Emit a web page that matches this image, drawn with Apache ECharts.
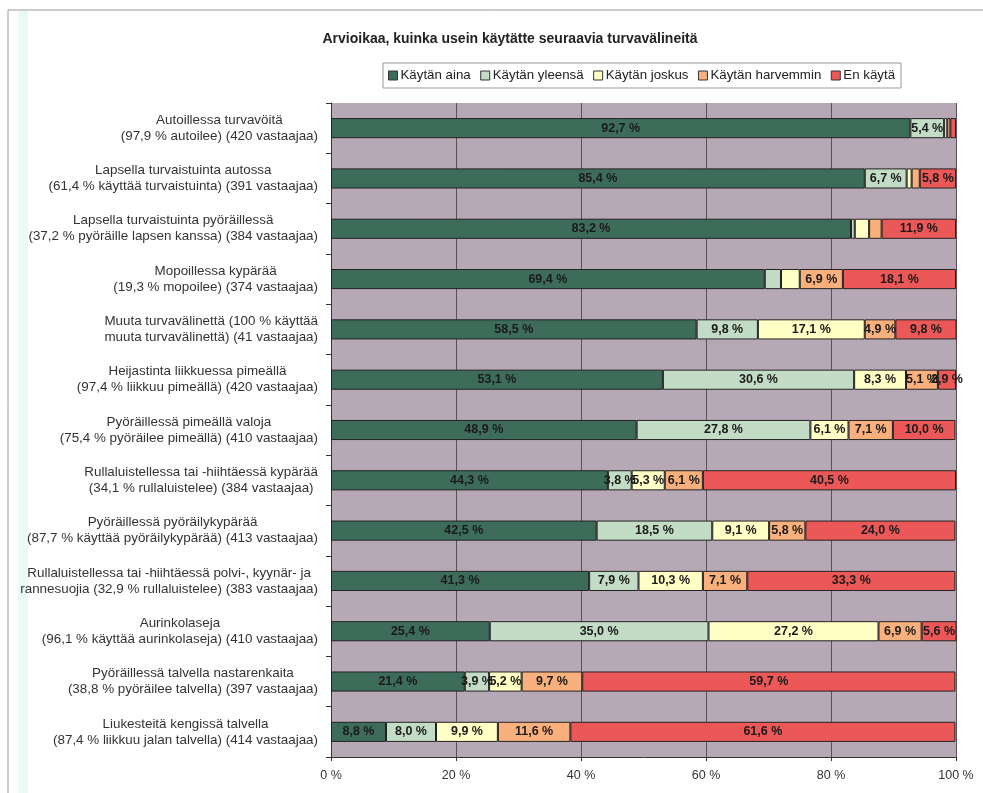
<!DOCTYPE html>
<html>
<head>
<meta charset="utf-8">
<script src="https://cdn.jsdelivr.net/npm/echarts@6/dist/echarts.min.js"></script>
<style>
html,body{margin:0;padding:0;background:#fff;}
#c{width:983px;height:793px;}
</style>
</head>
<body>
<div id="c"></div>
<script>
const titleText = 'Arvioikaa, kuinka usein käytätte seuraavia turvavälineitä';
const categories = [
  'Autoillessa turvavöitä\n(97,9 % autoilee) (420 vastaajaa)',
  'Lapsella turvaistuinta autossa\n(61,4 % käyttää turvaistuinta) (391 vastaajaa)',
  'Lapsella turvaistuinta pyöräillessä\n(37,2 % pyöräille lapsen kanssa) (384 vastaajaa)',
  'Mopoillessa kypärää\n(19,3 % mopoilee) (374 vastaajaa)',
  'Muuta turvavälinettä (100 % käyttää\nmuuta turvavälinettä) (41 vastaajaa)',
  'Heijastinta liikkuessa pimeällä\n(97,4 % liikkuu pimeällä) (420 vastaajaa)',
  'Pyöräillessä pimeällä valoja\n(75,4 % pyöräilee pimeällä) (410 vastaajaa)',
  'Rullaluistellessa tai -hiihtäessä kypärää\n(34,1 % rullaluistelee) (384 vastaajaa)',
  'Pyöräillessä pyöräilykypärää\n(87,7 % käyttää pyöräilykypärää) (413 vastaajaa)',
  'Rullaluistellessa tai -hiihtäessä polvi-, kyynär- ja\nrannesuojia (32,9 % rullaluistelee) (383 vastaajaa)',
  'Aurinkolaseja\n(96,1 % käyttää aurinkolaseja) (410 vastaajaa)',
  'Pyöräillessä talvella nastarenkaita\n(38,8 % pyöräilee talvella) (397 vastaajaa)',
  'Liukesteitä kengissä talvella\n(87,4 % liikkuu jalan talvella) (414 vastaajaa)'
];
const seriesNames = ['Käytän aina', 'Käytän yleensä', 'Käytän joskus', 'Käytän harvemmin', 'En käytä'];
const kaytanAina      = [92.7, 85.4, 83.2, 69.4, 58.5, 53.1, 48.9, 44.3, 42.5, 41.3, 25.4, 21.4, 8.8];
const kaytanYleensa   = [5.4, 6.7, 0.6, 2.6, 9.8, 30.6, 27.8, 3.8, 18.5, 7.9, 35.0, 3.9, 8.0];
const kaytanJoskus    = [0.5, 0.8, 2.3, 3.0, 17.1, 8.3, 6.1, 5.3, 9.1, 10.3, 27.2, 5.2, 9.9];
const kaytanHarvemmin = [0.5, 1.3, 2.0, 6.9, 4.9, 5.1, 7.1, 6.1, 5.8, 7.1, 6.9, 9.7, 11.6];
const enKayta         = [0.9, 5.8, 11.9, 18.1, 9.8, 2.9, 10.0, 40.5, 24.0, 33.3, 5.6, 59.7, 61.6];
// segments whose value label is not shown in the original: "row:series"
const hiddenLabels = ['0:2', '0:3', '0:4', '1:2', '1:3', '2:1', '2:2', '2:3', '3:1', '3:2'];
const xTicks = [0, 20, 40, 60, 80, 100];

const seriesData = [kaytanAina, kaytanYleensa, kaytanJoskus, kaytanHarvemmin, enKayta];
const colors = ['#3d6c5b', '#c3dcc6', '#ffffc6', '#f9b07c', '#ec5858'];
const FONT = '"Liberation Sans", Arial, sans-serif';

const chart = echarts.init(document.getElementById('c'), null, {renderer: 'canvas'});

const series = seriesData.map((arr, si) => ({
  name: seriesNames[si],
  type: 'bar',
  stack: 'total',
  barWidth: '40%',
  itemStyle: {color: colors[si], borderColor: '#222', borderWidth: 1},
  label: {
    show: true,
    position: 'inside',
    color: '#1a1a1a',
    fontFamily: FONT,
    fontSize: 12.5,
    fontWeight: 'bold',
    formatter: p => hiddenLabels.indexOf(p.dataIndex + ':' + si) >= 0 ? '' : p.value.toFixed(1).replace('.', ',') + ' %'
  },
  labelLayout: {hideOverlap: false},
  emphasis: {disabled: true},
  data: arr
}));

chart.setOption({
  animation: false,
  backgroundColor: '#ffffff',
  title: {
    text: titleText,
    left: 505, textAlign: 'center', top: 27,
    textStyle: {fontFamily: FONT, fontSize: 14, fontWeight: 'bold', color: '#222'}
  },
  legend: {
    data: seriesNames,
    left: 383, top: 63,
    itemWidth: 9, itemHeight: 9, itemGap: 9.5,
    padding: [6, 6, 6, 5],
    borderColor: '#999', borderWidth: 1,
    backgroundColor: '#fff',
    icon: 'rect',
    itemStyle: {borderColor: '#333', borderWidth: 1},
    textStyle: {fontFamily: FONT, fontSize: 13.3, color: '#222', padding: [0, 0, 0, -2]},
    selectedMode: false
  },
  graphic: [
    {type: 'rect', shape: {x: 18, y: 11, width: 10, height: 782}, style: {fill: '#e8fbf4'}, silent: true, z: -1},
    {type: 'line', shape: {x1: 8, y1: 10, x2: 983, y2: 10}, style: {stroke: '#9a9a9a', lineWidth: 1}, silent: true},
    {type: 'line', shape: {x1: 8, y1: 10, x2: 8, y2: 793}, style: {stroke: '#9a9a9a', lineWidth: 1}, silent: true}
  ],
  grid: {
    left: 331, right: 27, top: 103, bottom: 36,
    show: true, backgroundColor: '#b7a8b5', borderWidth: 0
  },
  xAxis: {
    type: 'value', min: xTicks[0], max: xTicks[xTicks.length - 1], interval: xTicks[1] - xTicks[0],
    axisLine: {show: true, lineStyle: {color: '#333'}},
    axisTick: {show: true, length: 4, lineStyle: {color: '#333'}},
    splitLine: {show: true, lineStyle: {color: '#5a5258', width: 1}},
    axisLabel: {formatter: '{value} %', fontFamily: FONT, fontSize: 12.5, color: '#333', margin: 12}
  },
  yAxis: {
    type: 'category', inverse: true, data: categories,
    axisLine: {show: true, lineStyle: {color: '#333'}},
    axisTick: {show: true, length: 5, interval: 0, lineStyle: {color: '#333'}},
    axisLabel: {
      interval: 0, margin: 13,
      fontFamily: FONT, fontSize: 13.4, color: '#333', lineHeight: 16,
      formatter: v => v.split('\n').map(s => '{c|' + s + '}').join('\n'),
      rich: {c: {align: 'center', fontFamily: FONT, fontSize: 13.4, color: '#333', lineHeight: 16}}
    }
  },
  series: series
});
</script>
</body>
</html>
